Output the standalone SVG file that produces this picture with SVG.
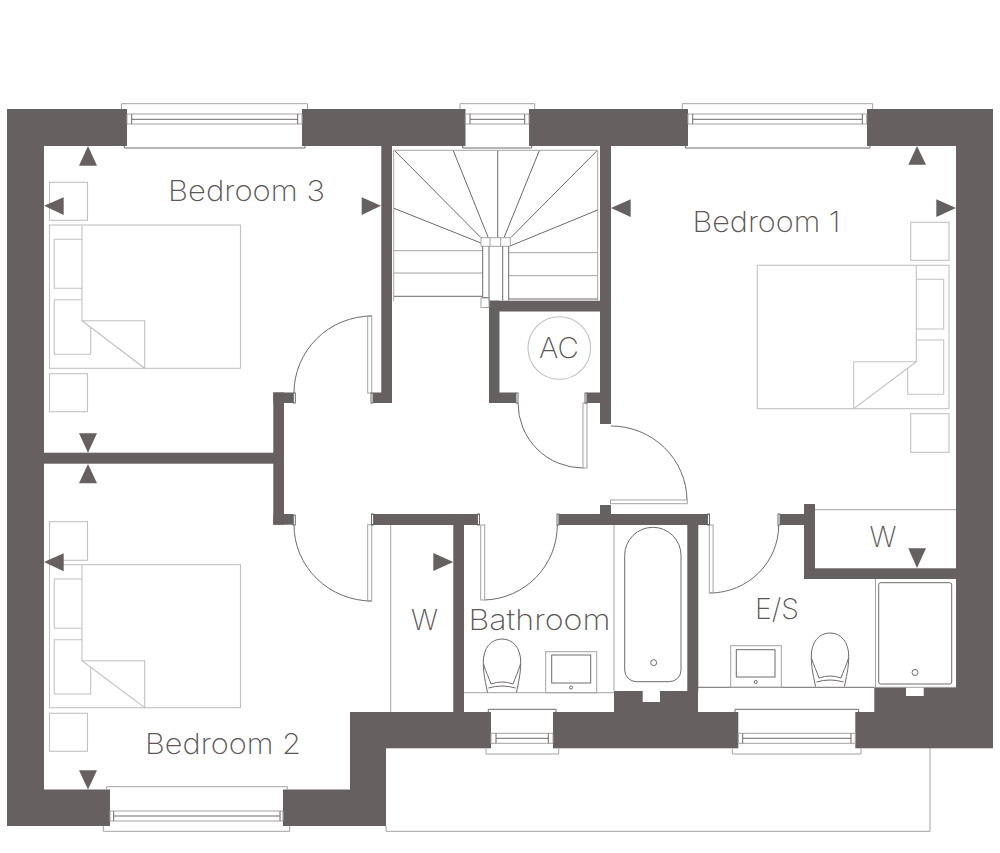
<svg xmlns="http://www.w3.org/2000/svg" xmlns:xlink="http://www.w3.org/1999/xlink" width="1000" height="853" viewBox="0 0 1000 853">
<style>
.wall{fill:#666060}
.arrow{fill:#666060}
.lt{fill:none;stroke:#c4c1c1;stroke-width:1.1}
.ltf{fill:#fff;stroke:#c4c1c1;stroke-width:1.1}
.md{fill:none;stroke:#a5a2a2;stroke-width:1}
.dk{fill:none;stroke:#6f6a6a;stroke-width:1}
.lab{font-family:"Inter","Liberation Sans",sans-serif;font-weight:200;fill:#5c5656;font-size:28.5px}
</style>
<defs>
<g id="toilet">
<path class="dk" d="M-14.5,53.5C-16,45-18.7,36-18.7,23C-18.7,9-11,0,0,0C11,0,18.7,9,18.7,23C18.7,36,16,45,14.5,53.5"/>
<path class="dk" d="M-18.5,25C-16.5,32-13,39-11,45Q0,41,11,45C13,39,16.5,32,18.5,25"/>
<path class="dk" d="M-13.5,49Q0,45,13.5,49"/>
</g>
</defs>
<rect width="1000" height="853" fill="#fff"/>
<g id="terrace"><path class="md" d="M386,826V831.3H930V748"/></g>
<g id="walls" class="wall">
<rect x="7" y="109" width="120" height="37"/>
<rect x="302" y="109" width="163.5" height="37"/>
<rect x="529" y="109" width="159" height="37"/>
<rect x="867" y="109" width="126" height="37"/>
<rect x="7" y="109" width="37" height="717"/>
<rect x="956" y="109" width="37" height="639"/>
<rect x="7" y="789.5" width="103" height="36.5"/>
<rect x="283" y="789.5" width="103" height="36.5"/>
<rect x="350" y="712" width="36" height="114"/>
<rect x="350" y="712" width="141" height="36.3"/>
<rect x="553" y="712" width="185.3" height="36.3"/>
<rect x="855.3" y="712" width="137.7" height="36.3"/>
<path d="M614,712V691H642.7V702H660V691H698V712Z"/>
<path d="M874.3,712V687.3H906V696H923.7V687.3H956V712Z"/>
<rect x="687.3" y="514" width="11" height="177"/>
<rect x="804" y="504" width="11" height="75"/>
<rect x="804" y="568.3" width="152" height="10.7"/>
<rect x="780" y="514" width="24" height="11"/>
<rect x="374" y="514" width="103.3" height="11"/>
<rect x="558.7" y="514" width="148.6" height="11"/>
<rect x="453.3" y="514" width="10.7" height="198"/>
<rect x="600" y="505" width="11" height="10"/>
<rect x="381.3" y="146" width="10.7" height="257"/>
<rect x="373" y="392.5" width="19" height="10.5"/>
<rect x="273.3" y="392.5" width="10.7" height="132.2"/>
<rect x="273.3" y="392.5" width="20" height="10.5"/>
<rect x="273.3" y="514" width="20" height="10.7"/>
<rect x="44" y="452.7" width="230" height="11"/>
<rect x="489" y="300.7" width="122" height="10.8"/>
<rect x="489" y="300.7" width="10.5" height="102.3"/>
<rect x="489" y="392.5" width="27" height="10.5"/>
<rect x="586.7" y="392.5" width="24" height="10.5"/>
<rect x="600" y="146" width="11" height="278"/>
</g>
<g id="windows">
<path class="md" d="M121.5,109V103.7H307.5V109"/>
<path class="dk" d="M124.3,146V148H305V146"/>
<path class="md" d="M127,114H302M127,124H302M127,114V124M302,114V124"/>
<path class="dk" d="M131.7,119.3H297.7M131.7,114V124M297.7,114V124"/>
<path class="md" d="M460,109V103.7H534.7V109"/>
<path class="dk" d="M462.7,146V148H531.7V146"/>
<path class="md" d="M465.3,114H529M465.3,124H529M465.3,114V124M529,114V124"/>
<path class="dk" d="M470,119.3H524.7M470,114V124M524.7,114V124"/>
<path class="md" d="M682.3,109V103.7H872.7V109"/>
<path class="dk" d="M685.3,146V148H870V146"/>
<path class="md" d="M688,114H866.7M688,124H866.7M688,114V124M866.7,114V124"/>
<path class="dk" d="M692.7,119.3H862.3M692.7,114V124M862.3,114V124"/>
<path class="md" d="M106.7,789.5V786.7H287.3V789.5"/>
<path class="md" d="M103.3,826V831.3H289.7V826"/>
<path class="md" d="M110,811H283M110,821H283M110,811V821M283,811V821"/>
<path class="dk" d="M113.7,816H280M113.7,811V821M280,811V821"/>
<path class="dk" d="M488.3,712V709.3H556V712"/>
<path class="md" d="M486,748.3V754H558.7V748.3"/>
<path class="md" d="M491,733.3H553M491,743.3H553M491,733.3V743.3M553,733.3V743.3"/>
<path class="dk" d="M496,738.3H548.3M496,733.3V743.3M548.3,733.3V743.3"/>
<path class="dk" d="M735,712V709.3H858.7V712"/>
<path class="md" d="M732.3,748.3V754H861V748.3"/>
<path class="md" d="M738.3,733.3H855.3M738.3,743.3H855.3M738.3,733.3V743.3M855.3,733.3V743.3"/>
<path class="dk" d="M742.7,738.3H851M742.7,733.3V743.3M851,733.3V743.3"/>
</g>
<g id="stairs">
<path class="md" d="M393.7,300.7V150.3H597.7V300"/>
<path class="dk" d="M394.7,150.7L481,237.7M453.3,150.7L488.3,237.7M497.7,150.7V237.7M539.3,150.7L504,237.7M596.7,151L510.7,237.7M394,208.3L481,243M597.7,210L510,246"/>
<path class="md" d="M394,250.7H482.7M394,273H482.7M508.7,252.7H597.7M508.7,275.7H597.7"/>
<path class="dk" d="M394,296.3H482.7M508.7,299H597.7"/>
<path class="md" d="M481,237.7H510.3V246.3H481ZM490,237.7V246.3M500.7,237.7V246.3"/>
<path class="dk" d="M482.7,246.3V297.5H489M489,246.3V300.7M502.7,246.3V300.7M508.7,246.3V300.7"/>
<rect class="md" x="481" y="298" width="8" height="9.5"/>
</g>
<g id="doors">
<path class="dk" d="M372,316A78,77 0 0 0 294,393"/>
<rect class="md" x="367.7" y="315.7" width="4" height="77.3"/>
<path class="dk" d="M372,601A78,76 0 0 1 294,525"/>
<rect class="md" x="367.7" y="524.7" width="4" height="76.6"/>
<path class="dk" d="M484.7,600A75,75 0 0 0 557.3,525"/>
<rect class="md" x="480.7" y="525" width="4" height="75"/>
<path class="dk" d="M710,593A69,68 0 0 0 778.7,525"/>
<rect class="md" x="709.3" y="525" width="3.8" height="68"/>
<path class="dk" d="M583,468A65,65 0 0 1 518,403"/>
<rect class="md" x="583" y="403" width="4" height="65"/>
<path class="dk" d="M611,426A76,75 0 0 1 687,500"/>
<rect class="md" x="610.5" y="500" width="76.8" height="3.7"/>
<g class="dk">
<rect x="293.3" y="393" width="2" height="10"/><rect x="371" y="393" width="2" height="10"/>
<rect x="293.3" y="515" width="2" height="10"/><rect x="371.5" y="514" width="2" height="11"/>
<rect x="477.5" y="514" width="2" height="11"/><rect x="557" y="514" width="2" height="11"/>
<rect x="707.5" y="514" width="2" height="11"/><rect x="778" y="514" width="2" height="11"/>
<rect x="516" y="393" width="2" height="10"/><rect x="585" y="393" width="2" height="10"/>
</g>
</g>
<g id="bedroom3">
<rect class="lt" x="49.5" y="182.3" width="38" height="38"/>
<rect class="lt" x="49.5" y="373.7" width="38" height="38"/>
<rect class="lt" x="49.5" y="225" width="191" height="143.3"/>
<path class="lt" d="M82,225V320.7M82,239.3H54.3V288.3H82M82,299.7H54.3V354.3H90.7V326"/>
<path class="ltf" d="M82,320.7H144.7V368.3Z"/>
</g>
<g id="bedroom2">
<rect class="lt" x="49.5" y="521.7" width="38" height="38.6"/>
<rect class="lt" x="49.5" y="713.3" width="38" height="38"/>
<rect class="lt" x="49.5" y="564.7" width="191" height="143"/>
<path class="lt" d="M82,564.7V660.7M82,579H54.3V628.3H82M82,639.7H54.3V694H90.7V666"/>
<path class="ltf" d="M82,660.7H144.7V707.7Z"/>
</g>
<g id="bedroom1">
<rect class="lt" x="910.7" y="222.3" width="38.3" height="38"/>
<rect class="lt" x="910.7" y="413.7" width="38.3" height="38.6"/>
<rect class="lt" x="757.3" y="265.3" width="191.7" height="143.4"/>
<path class="lt" d="M916.3,265.3V361.7M916.3,279.3H943.7V329H916.3M916.3,340H943.7V394.3H907.7V368"/>
<path class="ltf" d="M916.3,361.7H853.7V408.7Z"/>
</g>
<g id="cupboard"><circle class="lt" cx="559.3" cy="348" r="31.3"/></g>
<g id="bathroom">
<path class="md" d="M390.7,525V712M614,525V691M464,692.7H614"/>
<path class="dk" d="M624.7,555.3A28.15,28 0 0 1 681,555.3V670A11.7,11.7 0 0 1 669.3,681.7H636.4A11.7,11.7 0 0 1 624.7,670Z"/>
<circle class="dk" cx="653.7" cy="662.7" r="3"/>
<rect class="md" x="545.7" y="651.7" width="51" height="41"/>
<rect class="dk" x="551.7" y="655" width="39" height="28"/>
<circle class="dk" cx="571" cy="687.5" r="1.5"/>
<use xlink:href="#toilet" href="#toilet" x="502" y="639"/>
</g>
<g id="ensuite">
<path class="dk" d="M698,687.3H874.3"/>
<path class="md" d="M815,509.7H956M875.5,579V687.3H956"/>
<rect class="md" x="730.7" y="645.7" width="50.6" height="41.6"/>
<rect class="dk" x="736.3" y="649.7" width="38.7" height="27.3"/>
<circle class="dk" cx="755.7" cy="682" r="1.5"/>
<use xlink:href="#toilet" href="#toilet" x="830" y="633"/>
<rect class="dk" x="878.7" y="582.7" width="73" height="101.3" rx="2"/>
<circle class="dk" cx="915" cy="672.5" r="3"/>
</g>
<g id="arrows" class="arrow">
<path d="M88,146L97,165.7H79Z"/>
<path d="M44,205.7L63.7,197.3V215Z"/>
<path d="M381,205.7L361.7,197.3V215Z"/>
<path d="M88,452.7L97,433.3H79Z"/>
<path d="M88,464L97,483.3H79Z"/>
<path d="M44,562L63.7,553.3V571.3Z"/>
<path d="M88,789.5L97,770.3H79Z"/>
<path d="M917,146L926,164.7H908.3Z"/>
<path d="M611,208L630.7,199.3V217Z"/>
<path d="M956,208L936.3,199.3V217Z"/>
<path d="M453.3,562L433.3,553V571Z"/>
<path d="M917,568L926,548.3H908.3Z"/>
</g>
<g id="labels">
<text class="lab" x="168" y="201" textLength="157" lengthAdjust="spacingAndGlyphs">Bedroom 3</text>
<text class="lab" x="692.5" y="232.3" textLength="148" lengthAdjust="spacingAndGlyphs">Bedroom 1</text>
<text class="lab" x="145" y="754" textLength="156" lengthAdjust="spacingAndGlyphs">Bedroom 2</text>
<text class="lab" x="468.5" y="630" textLength="142" lengthAdjust="spacingAndGlyphs">Bathroom</text>
<text class="lab" x="411" y="630" textLength="27" lengthAdjust="spacingAndGlyphs">W</text>
<text class="lab" x="755" y="619.3" textLength="44" lengthAdjust="spacingAndGlyphs">E/S</text>
<text class="lab" x="869.5" y="547.3" textLength="27" lengthAdjust="spacingAndGlyphs">W</text>
<text class="lab" x="539" y="358" textLength="40" lengthAdjust="spacingAndGlyphs">AC</text>
</g>
</svg>
